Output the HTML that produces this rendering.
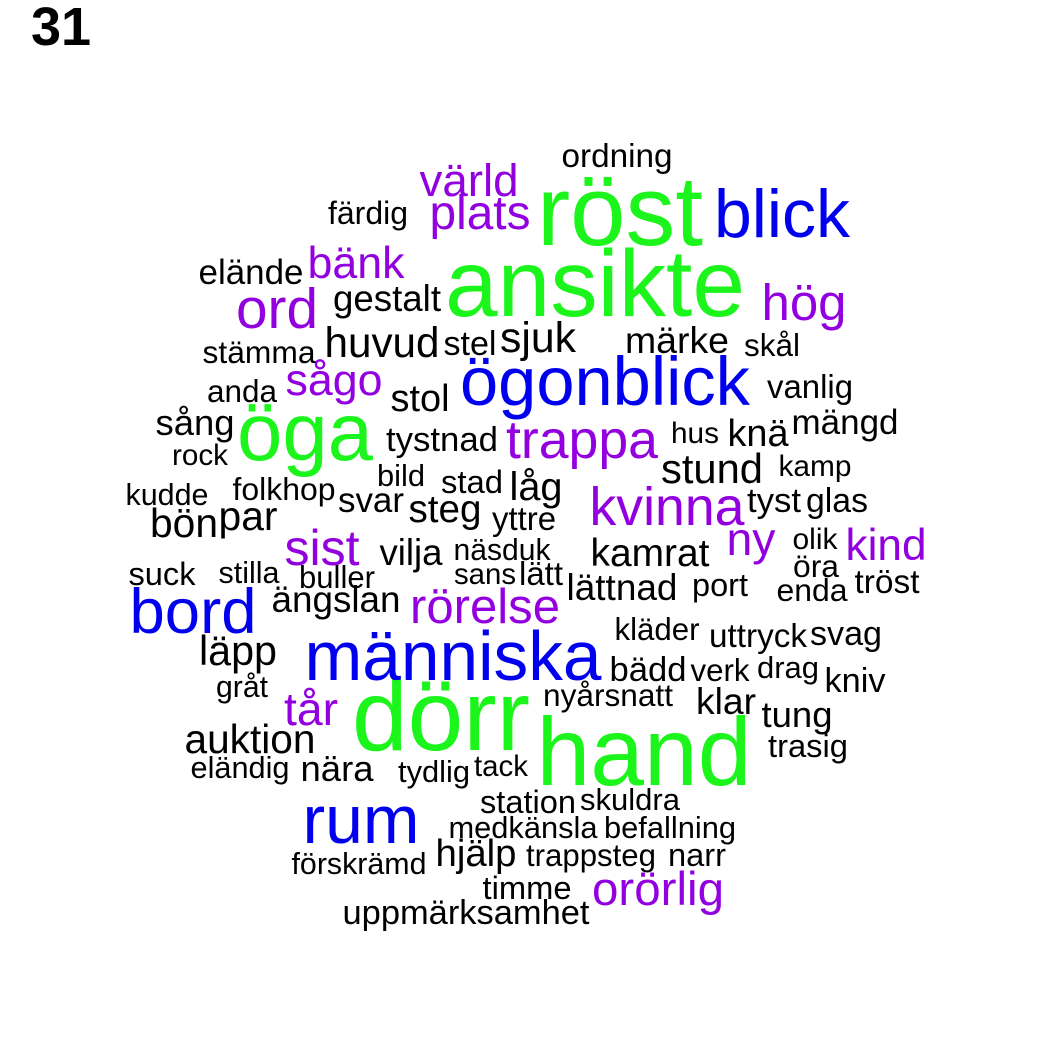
<!DOCTYPE html>
<html>
<head>
<meta charset="utf-8">
<style>
html,body{margin:0;padding:0;background:#fff;}
svg{display:block;}
text{font-family:"Liberation Sans",Arial,sans-serif;}
</style>
</head>
<body>
<svg id="cloud" width="1050" height="1050" viewBox="0 0 1050 1050" xmlns="http://www.w3.org/2000/svg">
<rect width="1050" height="1050" fill="#fff"/>
<text x="31" y="45" font-size="54" font-weight="bold" fill="#000">31</text>
<g id="words"></g>
</svg>
<script>
const words = ["röst","ansikte","dörr","hand","öga","blick","ögonblick","bord","människa","rum",
"värld","plats","bänk","ord","hög","sågo","trappa","kvinna","sist","ny","kind","rörelse","tår","orörlig",
"ordning","färdig","elände","gestalt","huvud","stel","sjuk","märke","skål","stämma","anda","stol","vanlig",
"sång","rock","tystnad","hus","knä","mängd","stund","kamp","bild","stad","låg","kudde","folkhop","svar",
"steg","yttre","tyst","glas","bön","par","olik","vilja","näsduk","kamrat","öra","suck","stilla","buller",
"sans","lätt","lättnad","port","enda","tröst","ängslan","kläder","uttryck","svag","läpp","bädd","verk",
"drag","kniv","gråt","nyårsnatt","klar","tung","auktion","trasig","eländig","nära","tydlig","tack",
"station","skuldra","medkänsla","befallning","förskrämd","hjälp","trappsteg","narr","timme","uppmärksamhet"];
// frequency group: 3 = most frequent (green), 2 = blue, 1 = purple, 0 = black
const groups = [3,3,3,3,3,2,2,2,2,2,1,1,1,1,1,1,1,1,1,1,1,1,1,1].concat(new Array(78).fill(0));
const centers = [620,595,441,644,305,782,605,193,453,361,
469,480,356,277,804,334,582,667,322,751,886,485,311,658,
617,368,251,387,382,470,538,677,772,259,242,420,810,
195,200,442,695,758,845,712,815,401,472,536,167,284,371,
445,524,774,837,184,248,815,411,502,650,816,162,249,337,
485,541,622,720,812,887,336,657,758,846,238,648,720,
788,855,242,608,726,797,250,808,240,337,434,501,
528,630,523,670,359,476,591,697,527,466];
const baselines = [245,316,750,785,460,237,405,633,680,843,
196,229,278,328,320,395,458,525,565,555,560,623,725,905,
167,224,284,311,357,355,352,353,356,363,402,411,398,
435,465,451,443,446,434,483,476,486,493,500,505,500,512,
522,530,512,512,537,530,549,565,560,566,577,585,583,588,
584,585,600,596,601,593,612,640,647,645,665,681,681,
678,692,697,706,714,727,753,757,778,781,782,776,
813,810,838,838,874,866,866,866,899,924];
const widths = [166,300,178,215,136,136,290,127,297,117,
99,101,97,82,85,97,152,155,75,49,81,150,54,132,
111,80,105,108,115,53,76,104,56,113,70,59,86,
79,56,112,48,61,107,102,73,48,62,53,83,103,66,
73,64,54,62,68,59,45,63,97,119,46,67,61,76,
62,44,111,56,71,65,129,85,98,72,78,77,59,
62,61,52,130,60,71,131,80,99,73,72,54,
96,100,149,132,135,81,130,58,89,247];
const palette = ["#000000","#9300e0","#0000ee","#1cf51c"];

const g = document.getElementById('words');
const ctx = document.createElement('canvas').getContext('2d');
ctx.font = '100px "Liberation Sans", Arial, sans-serif';
for (let i = 0; i < words.length; i++) {
  const w = ctx.measureText(words[i]).width || 100;
  const size = 100 * widths[i] / w;
  const t = document.createElementNS('http://www.w3.org/2000/svg','text');
  t.setAttribute('x', centers[i]);
  t.setAttribute('y', baselines[i]);
  t.setAttribute('text-anchor','middle');
  t.setAttribute('font-size', size.toFixed(1));
  t.setAttribute('fill', palette[groups[i]]);
  t.setAttribute('textLength', widths[i]);
  t.setAttribute('lengthAdjust','spacingAndGlyphs');
  t.textContent = words[i];
  
  
  g.appendChild(t);
}
</script>
</body>
</html>
